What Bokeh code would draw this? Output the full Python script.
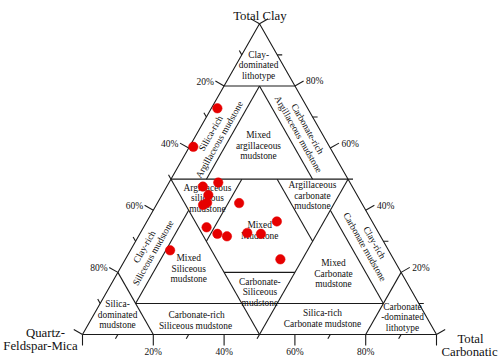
import math
from bokeh.plotting import figure
from bokeh.models import Range1d, ColumnDataSource
from bokeh.embed import file_html
from bokeh.resources import INLINE
from bokeh.core.properties import value

# ---------------- data ----------------
# sample compositions in % (Quartz-Feldspar-Mica, Total Clay, Total Carbonatic)
sample_qfm = [25.5, 38.5, 42.2, 37.2, 42.0, 45.1, 43.6, 34.6, 47.7, 45.7, 43.4, 37.1, 33.4, 26.9, 32.0, 61.7]
sample_clay = [72.8, 60.4, 47.6, 48.9, 44.9, 41.7, 42.4, 42.3, 34.5, 32.4, 31.6, 32.7, 32.4, 36.4, 24.2, 27.1]
sample_carb = [1.7, 1.1, 10.2, 13.9, 13.1, 13.2, 14.0, 23.1, 17.8, 21.9, 25.0, 30.2, 34.2, 36.7, 43.8, 11.2]

tick_values = [0, 10, 20, 30, 40, 50, 60, 70, 80, 90, 100]
labelled_ticks = [20, 40, 60, 80]
tick_label_text = ["20%", "40%", "60%", "80%"]

apex_clay = "Total  Clay"
apex_qfm = ["Quartz-", "Feldspar-Mica"]
apex_carb = ["Total", "Carbonatic"]

# class boundaries (fractions)
B_DOM, B_HALF, B_RICH, B_MIX = 0.8, 0.5, 0.1, 0.2

# region names
region_names = [
    "Clay-\ndominated\nlithotype",
    "Silica-rich\nArgillaceous  mudstone",
    "Carbonate-rich\nArgillaceous mudstone",
    "Mixed\nargillaceous\nmudstone",
    "Argillaceous\nsiliceous\nmudstone",
    "Argillaceous\ncarbonate\nmudstone",
    "Mixed\nMudstone",
    "Carbonate-\nSiliceous\nmudstone",
    "Clay-rich\nSiliceous  mudstone",
    "Mixed\nSiliceous\nmudstone",
    "Silica-\ndominated\nmudstone",
    "Carbonate-rich\nSiliceous  mudstone",
    "Clay-rich\nCarbonate  mudstone",
    "Mixed\nCarbonate\nmudstone",
    "Silica-rich\nCarbonate mudstone",
    "Carbonate\n-dominated\nlithotype",
]
# label anchors as (clay, carbonate) fractions, and orientation
region_pos = [
    (0.867, 0.064), (0.639, 0.056), (0.653, 0.296), (0.608, 0.193),
    (0.438, 0.134), (0.447, 0.426), (0.335, 0.333), (0.136, 0.433),
    (0.274, 0.051), (0.212, 0.194), (0.064, 0.067), (0.045, 0.300),
    (0.287, 0.668), (0.196, 0.611), (0.052, 0.652), (0.056, 0.876),
]
SIDE_ANG = math.atan2(310.7, 176.3)
region_rot = [0, SIDE_ANG, -SIDE_ANG, 0, 0, 0, 0, 0, SIDE_ANG, 0, 0, 0, -SIDE_ANG, 0, 0, 0]

# ---------------- geometry ----------------
SX, SY = 354.0, 310.7        # pixels per unit in X and Y
W, H = 500, 359
OX, OY = 82.0, 334.0         # pixel position of the QFM vertex inside the canvas


def txy(q, c, k):
    s = q + c + k
    c, k = c / s, k / s
    return k + 0.5 * c, c


def px(dx, dy):
    """pixel offset -> data offset"""
    return dx / SX, -dy / SY


p = figure(width=W, height=H, output_backend="svg", toolbar_location=None,
           x_axis_type=None, y_axis_type=None, min_border=0,
           x_range=Range1d(-OX / SX, (W - OX) / SX),
           y_range=Range1d(-(H - OY) / SY, OY / SY))
p.outline_line_color = None
p.background_fill_color = "white"
p.border_fill_color = "white"

LC = "#1a1a1a"
segs = [
    [(1, 0, 0), (0, 1, 0), (0, 0, 1), (1, 0, 0)],
    [(1 - B_DOM, B_DOM, 0), (0, B_DOM, 1 - B_DOM)],
    [(B_HALF, B_HALF, 0), (0, B_HALF, B_HALF)],
    [(B_DOM, B_RICH, B_RICH), (B_RICH, B_RICH, B_DOM)],
    [(B_HALF, B_MIX, 1 - B_HALF - B_MIX), (1 - B_HALF - B_MIX, B_MIX, B_HALF)],
    [(B_DOM, 1 - B_DOM, 0), (B_DOM, 0, 1 - B_DOM)],
    [(B_HALF, B_HALF, 0), (B_HALF, 0, B_HALF)],
    [(B_RICH, B_DOM, B_RICH), (B_RICH, B_HALF, 1 - B_HALF - B_RICH)],
    [(B_RICH, 1 - B_HALF - B_RICH, B_HALF), (B_RICH, B_RICH, B_DOM)],
    [(B_MIX, B_HALF, 1 - B_HALF - B_MIX), (B_MIX, 1 - B_HALF - B_MIX, B_HALF)],
    [(1 - B_DOM, 0, B_DOM), (0, 1 - B_DOM, B_DOM)],
    [(0, B_HALF, B_HALF), (B_HALF, 0, B_HALF)],
    [(B_RICH, B_DOM, B_RICH), (1 - B_HALF - B_RICH, B_HALF, B_RICH)],
    [(B_HALF, 1 - B_HALF - B_RICH, B_RICH), (B_DOM, B_RICH, B_RICH)],
    [(1 - B_HALF - B_MIX, B_HALF, B_MIX), (B_HALF, 1 - B_HALF - B_MIX, B_MIX)],
]
xs, ys = [], []
for s in segs:
    pts = [txy(*t) for t in s]
    xs.append([a for a, b in pts])
    ys.append([b for a, b in pts])
p.multi_line(xs, ys, line_color=LC, line_width=1.1)

# ---------------- ticks ----------------
nl = (-0.8698, -0.4936)   # outward normal, left side (pixels)
nr = (0.8681, -0.4964)    # outward normal, right side
nb = (0.0, 1.0)           # outward normal, base
gl = (-0.4964, -0.8681)   # constant-QFM direction out of left side
gr = (1.0, 0.0)           # constant-clay direction out of right side
gb = (-0.4936, 0.8698)    # constant-carbonate direction out of base

txs, tys = [], []
lab_x, lab_y, lab_t, lab_al = [], [], [], []
for t in tick_values:
    f = t / 100.0
    for side in ("L", "R", "B"):
        if side == "L":
            base = txy(f, 1 - f, 0); maj, mino, Lm = nl, gl, 10
        elif side == "R":
            base = txy(0, f, 1 - f); maj, mino, Lm = nr, gr, 10
        else:
            base = txy(1 - f, 0, f); maj, mino, Lm = nb, gb, 11
        if t % 20 == 0:
            d = px(maj[0] * Lm, maj[1] * Lm)
        else:
            d = px(mino[0] * 5, mino[1] * 5)
        txs.append([base[0], base[0] + d[0]])
        tys.append([base[1], base[1] + d[1]])
        if t in labelled_ticks:
            lab = tick_label_text[labelled_ticks.index(t)]
            if side == "L":
                o = px(maj[0] * Lm - 1.5, maj[1] * Lm + 0.5)
                al = "right"
            elif side == "R":
                o = px(maj[0] * Lm + 2.5, maj[1] * Lm + 0.5)
                al = "left"
            else:
                o = px(0, 17.5)
                al = "center"
            lab_x.append(base[0] + o[0]); lab_y.append(base[1] + o[1])
            lab_t.append(lab); lab_al.append(al)
p.multi_line(txs, tys, line_color=LC, line_width=1.1)

FONT = value("Liberation Serif")
for x, y, t, al in zip(lab_x, lab_y, lab_t, lab_al):
    p.text([x], [y], text=[t], text_align=al, text_baseline="middle",
           text_font=FONT, text_font_size="9.5px", text_color="#111111")

# ---------------- region labels ----------------
rx, ry = [], []
for c, k in region_pos:
    a, b = txy(1 - c - k, c, k)
    rx.append(a); ry.append(b)
src = ColumnDataSource(dict(x=rx, y=ry, t=region_names, a=region_rot))
p.text("x", "y", text="t", angle="a", source=src, text_align="center",
       text_baseline="middle", text_font=FONT, text_font_size="9.4px",
       text_line_height=1.06, text_color="#111111")

# ---------------- vertex titles ----------------
top = txy(0, 1, 0)
d = px(2, -8.3)
p.text([top[0] + d[0]], [top[1] + d[1]], text=[apex_clay], text_align="center",
       text_baseline="alphabetic", text_font=FONT, text_font_size="12.8px", text_color="#111111")
bl = txy(1, 0, 0)
for i, (dx, dy) in enumerate([(-37, -2), (-42, 11)]):
    d = px(dx, dy)
    p.text([bl[0] + d[0]], [bl[1] + d[1]], text=[apex_qfm[i]], text_align="center",
           text_baseline="alphabetic", text_font=FONT, text_font_size="12.8px", text_color="#111111")
br = txy(0, 0, 1)
for i, (dx, dy) in enumerate([(34, 4), (33, 17)]):
    d = px(dx, dy)
    p.text([br[0] + d[0]], [br[1] + d[1]], text=[apex_carb[i]], text_align="center",
           text_baseline="alphabetic", text_font=FONT, text_font_size="12.8px", text_color="#111111")

# ---------------- samples ----------------
sx, sy = [], []
for q, c, k in zip(sample_qfm, sample_clay, sample_carb):
    a, b = txy(q, c, k)
    sx.append(a); sy.append(b)
p.scatter(sx, sy, size=9.5, fill_color="#e60000", line_color="#e60000", line_width=0.5)

open("out.html", "w").write(file_html(p, INLINE))
